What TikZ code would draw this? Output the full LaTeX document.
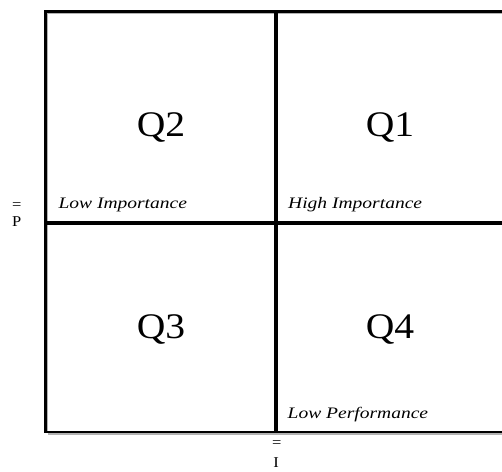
\documentclass[tikz,border=0pt]{standalone}
\usepackage{fontspec}
\usepackage{graphicx}
\setmainfont{Liberation Serif}
\newcommand\widetext[2]{\scalebox{#1}[1]{#2}}
\begin{document}
\begin{tikzpicture}[x=1pt,y=-1pt,
  frameline/.style={line width=2.7pt, black, line join=miter},
  shadowline/.style={line width=1.4pt, gray!60},
  midline/.style={line width=3.4pt, black},
  qlabel/.style={font=\fontsize{36}{40}\selectfont, anchor=base, inner sep=0pt},
  clabel/.style={font=\fontsize{16}{18}\selectfont\itshape, anchor=base west, inner sep=0pt},
  axlabel/.style={font=\fontsize{15}{17}\selectfont, anchor=base, inner sep=0pt}]
\useasboundingbox (0,0) rectangle (502,471);
\coordinate (tl) at (45.7,11.2);
\coordinate (tr) at (508,11.2);
\coordinate (bl) at (45.7,432);
\coordinate (br) at (508,432);
\coordinate (mt) at (276,11.2);
\coordinate (mb) at (276,432);
\coordinate (ml) at (45.7,223);
\coordinate (mr) at (508,223);
% shadows
\draw[shadowline] ([xshift=2pt,yshift=-2pt]tl) -- ([xshift=2pt]bl);
\draw[shadowline] ([xshift=2pt,yshift=-2pt]tl) -- ([yshift=-2pt]tr);
\draw[shadowline] ([xshift=2pt,yshift=-1.8pt]bl) -- ([yshift=-1.8pt]br);
% frame
\draw[frameline] (tr) -- (tl) -- (bl) -- (br);
\draw[midline] (mt) -- (mb);
\draw[midline] (ml) -- (mr);
% quadrant labels
\node[qlabel] (q2) at (161,136) {\widetext{1.1}{Q2}};
\node[qlabel] (q1) at (390,136) {\widetext{1.1}{Q1}};
\node[qlabel] (q3) at (161,338) {\widetext{1.1}{Q3}};
\node[qlabel] (q4) at (390,338) {\widetext{1.1}{Q4}};
% corner labels
\node[clabel] (lowimp) at (58.3,208) {\widetext{1.22}{Low Importance}};
\node[clabel] (highimp) at (288,208) {\widetext{1.22}{High Importance}};
\node[clabel] (lowperf) at (287.5,418) {\widetext{1.22}{Low Performance}};
% axis labels
\node[axlabel] (peq) at (16.7,209) {\widetext{1.1}{=}};
\node[axlabel] (p) at (16.7,226) {\widetext{1.1}{P}};
\node[axlabel] (ieq) at (276.7,447) {\widetext{1.1}{=}};
\node[axlabel] (i) at (276,467) {\widetext{1.1}{I}};
\end{tikzpicture}
\end{document}
